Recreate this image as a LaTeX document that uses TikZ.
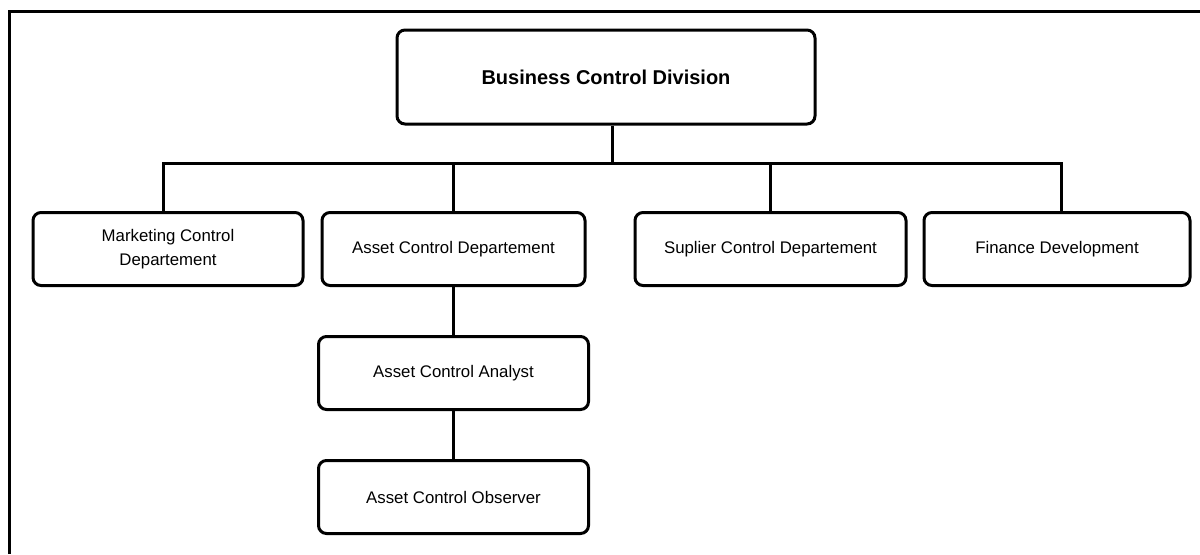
\documentclass[tikz,border=0pt]{standalone}
\usepackage{fontspec}
\setmainfont{Liberation Sans}
\usetikzlibrary{positioning}

\begin{document}
\begin{tikzpicture}[
      x=0.5pt, y=-0.5pt,
      node distance=24pt,
      unit/.style={draw, rounded corners=4pt, line width=1.5pt, minimum width=135pt, minimum height=36.5pt, align=center, inner sep=2pt, font=\fontsize{8.4}{12}\selectfont},
      head/.style={unit, minimum width=209pt, minimum height=47pt, font=\bfseries\fontsize{10}{12}\selectfont},
      link/.style={line width=1.5pt}
    ]
      \useasboundingbox (0,0) rectangle (1200,554);
      % page frame
      \draw[line width=1.5pt] (9,554) -- (9,11) -- (1200,11);

      \node[head] (bcd) at (606,77) {Business Control Division};
      \coordinate (bus) at (612,163);
      \coordinate (busL) at (163,163);
      \coordinate (busR) at (1061,163);

      \node[unit] (mcd) at (168,249) {Marketing Control\\Departement};
      \node[unit, minimum width=131.5pt] (acd) at (453.5,249) {Asset Control Departement};
      \node[unit, minimum width=135.5pt] (scd) at (770.5,249) {Suplier Control Departement};
      \node[unit, minimum width=133pt] (fdv) at (1057,249) {Finance Development};

      \node[unit, below=of acd] (aca) {Asset Control Analyst};
      \node[unit, below=of aca] (aco) {Asset Control Observer};

      \draw[link] (bus |- bcd.south) -- (bus);
      \draw[link] (busL |- mcd.north) -- (busL) -- (busR) -- (busR |- fdv.north);
      \draw[link] (acd.north) -- (acd.north |- bus);
      \draw[link] (scd.north) -- (scd.north |- bus);
      \draw[link] (acd) -- (aca);
      \draw[link] (aca) -- (aco);
    \end{tikzpicture}
\end{document}
